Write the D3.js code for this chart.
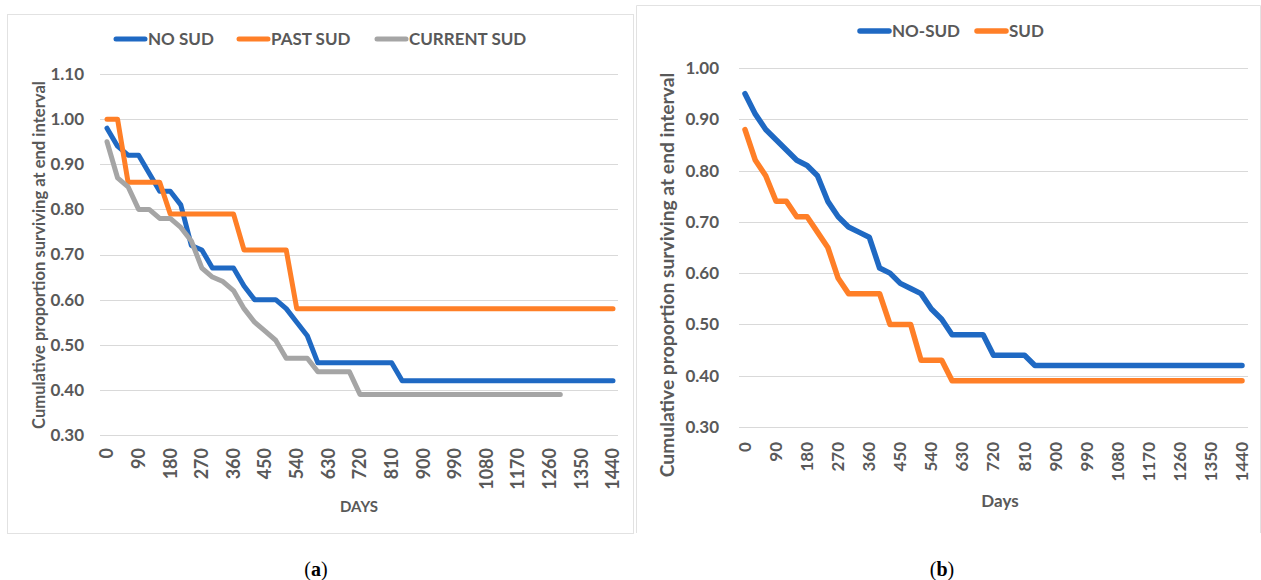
<!DOCTYPE html>
<html><head><meta charset="utf-8">
<script src="https://cdn.jsdelivr.net/npm/d3@7"></script>
<style>body{margin:0;background:#fff} svg{display:block} text{font-family:Lato,"Open Sans",sans-serif}</style>
</head><body><svg id="c" width="1261" height="580"></svg>
<script>
// ---- data (30-day life-table intervals) ----
const days = [0,30,60,90,120,150,180,210,240,270,300,330,360,390,420,450,480,510,540,570,600,630,660,690,720,750,780,810,840,870,900,930,960,990,1020,1050,1080,1110,1140,1170,1200,1230,1260,1290,1320,1350,1380,1410,1440];
// panel (a)
const noSudA = [0.98,0.94,0.92,0.92,0.88,0.84,0.84,0.81,0.72,0.71,0.67,0.67,0.67,0.63,0.60,0.60,0.60,0.58,0.55,0.52,0.46,0.46,0.46,0.46,0.46,0.46,0.46,0.46,0.42,0.42,0.42,0.42,0.42,0.42,0.42,0.42,0.42,0.42,0.42,0.42,0.42,0.42,0.42,0.42,0.42,0.42,0.42,0.42,0.42];
const pastSudA = [1.00,1.00,0.86,0.86,0.86,0.86,0.79,0.79,0.79,0.79,0.79,0.79,0.79,0.71,0.71,0.71,0.71,0.71,0.58,0.58,0.58,0.58,0.58,0.58,0.58,0.58,0.58,0.58,0.58,0.58,0.58,0.58,0.58,0.58,0.58,0.58,0.58,0.58,0.58,0.58,0.58,0.58,0.58,0.58,0.58,0.58,0.58,0.58,0.58];
const currentSudA = [0.95,0.87,0.85,0.80,0.80,0.78,0.78,0.76,0.73,0.67,0.65,0.64,0.62,0.58,0.55,0.53,0.51,0.47,0.47,0.47,0.44,0.44,0.44,0.44,0.39,0.39,0.39,0.39,0.39,0.39,0.39,0.39,0.39,0.39,0.39,0.39,0.39,0.39,0.39,0.39,0.39,0.39,0.39,0.39];
// panel (b)
const noSudB = [0.95,0.91,0.88,0.86,0.84,0.82,0.81,0.79,0.74,0.71,0.69,0.68,0.67,0.61,0.60,0.58,0.57,0.56,0.53,0.51,0.48,0.48,0.48,0.48,0.44,0.44,0.44,0.44,0.42,0.42,0.42,0.42,0.42,0.42,0.42,0.42,0.42,0.42,0.42,0.42,0.42,0.42,0.42,0.42,0.42,0.42,0.42,0.42,0.42];
const sudB = [0.88,0.82,0.79,0.74,0.74,0.71,0.71,0.68,0.65,0.59,0.56,0.56,0.56,0.56,0.50,0.50,0.50,0.43,0.43,0.43,0.39,0.39,0.39,0.39,0.39,0.39,0.39,0.39,0.39,0.39,0.39,0.39,0.39,0.39,0.39,0.39,0.39,0.39,0.39,0.39,0.39,0.39,0.39,0.39,0.39,0.39,0.39,0.39,0.39];
// ticks
const xTicks = [0,90,180,270,360,450,540,630,720,810,900,990,1080,1170,1260,1350,1440];
const yTicksA = [0.30,0.40,0.50,0.60,0.70,0.80,0.90,1.00,1.10];
const yTicksB = [0.30,0.40,0.50,0.60,0.70,0.80,0.90,1.00];
const yTitle = "Cumulative proportion surviving at end interval";
const COL = {blue:"#1f69c3", orange:"#ff7f27", gray:"#a5a5a5"};

const svg = d3.select("#c");
svg.append("rect").attr("width",1261).attr("height",580).attr("fill","#fff");

// panel frames
svg.append("rect").attr("x",7.5).attr("y",14.5).attr("width",626).attr("height",519)
  .attr("fill","none").attr("stroke","#e2e2e2").attr("stroke-width",1);
svg.append("path").attr("d","M636.5,533 V5.5 H1260.5 V533")
  .attr("fill","none").attr("stroke","#e2e2e2").attr("stroke-width",1);

function panel(cfg){
  const g = svg.append("g");
  const x = d3.scaleLinear().domain([0,1440]).range(cfg.xr);
  const y = d3.scaleLinear().domain(cfg.yd).range(cfg.yr);
  // grid
  g.selectAll("line.grid").data(cfg.yTicks).join("line")
    .attr("x1",cfg.gx[0]).attr("x2",cfg.gx[1])
    .attr("y1",d=>Math.round(y(d))+0.5).attr("y2",d=>Math.round(y(d))+0.5)
    .attr("stroke","#d9d9d9").attr("stroke-width",1);
  // y tick labels
  g.selectAll("text.yt").data(cfg.yTicks).join("text")
    .attr("x",cfg.ylx).attr("y",d=>y(d)).attr("dy","0.35em")
    .attr("text-anchor","end").attr("font-size",cfg.tfs).attr("font-weight","bold")
    .attr("fill","#595959").text(d=>d.toFixed(2));
  // x tick labels (rotated)
  g.selectAll("text.xt").data(xTicks).join("text")
    .attr("transform",d=>`translate(${x(d)},${cfg.xly}) rotate(-90)`)
    .attr("dy","0.35em").attr("text-anchor","end")
    .attr("font-size",cfg.xfs).attr("font-weight","bold")
    .attr("fill","#595959").text(d=>d);
  // axis titles
  const yt = g.append("text").attr("transform",`translate(${cfg.ytx},${cfg.yty}) rotate(-90)`)
    .attr("text-anchor","middle").attr("dy","0.35em").attr("font-size",16).attr("font-weight","bold")
    .attr("fill","#595959").text(yTitle);
  const w = yt.node().getComputedTextLength();
  yt.attr("font-size",16*cfg.ytw/w);
  g.append("text").attr("x",cfg.xtx).attr("y",cfg.xty).attr("text-anchor","middle")
    .attr("font-size",cfg.xtfs).attr("font-weight","bold").attr("fill","#595959").text(cfg.xTitle);
  // lines
  const line = d3.line().x((d,i)=>x(days[i])).y(d=>y(d));
  cfg.series.forEach(s=>{
    g.append("path").datum(s.values).attr("d",line).attr("fill","none")
      .attr("stroke",s.color).attr("stroke-width",cfg.sw)
      .attr("stroke-linejoin","round").attr("stroke-linecap","round");
  });
  // legend
  cfg.series.forEach((s,i)=>{
    const lx = cfg.legX[i];
    g.append("line").attr("x1",lx+2).attr("x2",lx+cfg.legL-2).attr("y1",cfg.legY).attr("y2",cfg.legY)
      .attr("stroke",s.color).attr("stroke-width",cfg.sw).attr("stroke-linecap","round");
    g.append("text").attr("x",lx+cfg.legL+1).attr("y",cfg.legY).attr("dy","0.35em")
      .attr("font-size",cfg.lfs).attr("font-weight","bold").attr("fill","#595959").text(s.name);
  });
}

panel({
  xr:[107,613], yd:[0.3,1.1], yr:[435,74], gx:[100,618], yTicks:yTicksA,
  ylx:84, xly:448, tfs:17, xfs:18, ytx:39, yty:255, ytw:348, xtx:359, xty:512, xtfs:15, xTitle:"DAYS",
  sw:5, legY:39, legX:[114,237,375], legL:33, lfs:17,
  series:[{name:"NO SUD",values:noSudA,color:COL.blue},
          {name:"PAST SUD",values:pastSudA,color:COL.orange},
          {name:"CURRENT SUD",values:currentSudA,color:COL.gray}]
});
panel({
  xr:[745,1242], yd:[0.3,1.0], yr:[427,68], gx:[739,1248], yTicks:yTicksB,
  ylx:719, xly:442, tfs:17, xfs:17, ytx:667, yty:275, ytw:405, xtx:1000, xty:507, xtfs:17, xTitle:"Days",
  sw:5.5, legY:31, legX:[858,975], legL:33, lfs:17,
  series:[{name:"NO-SUD",values:noSudB,color:COL.blue},
          {name:"SUD",values:sudB,color:COL.orange}]
});

// captions
[["a",316],["b",942]].forEach(([l,cx])=>{
  const t = svg.append("text").attr("x",cx).attr("y",576).attr("text-anchor","middle")
    .style("font-family","'Liberation Serif','Times New Roman',serif").attr("font-size",20).attr("fill","#000");
  t.append("tspan").text("(");
  t.append("tspan").attr("font-weight","bold").text(l);
  t.append("tspan").text(")");
});
</script></body></html>
